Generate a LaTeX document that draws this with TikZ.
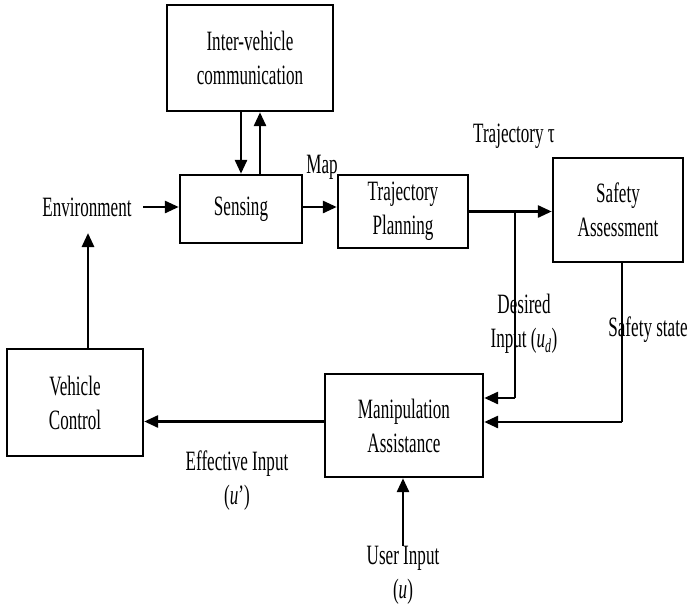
\documentclass[tikz,border=0pt]{standalone}
\usepackage{fontspec}
\setmainfont{Liberation Serif}[FakeStretch=0.61]
\usetikzlibrary{arrows.meta}
\begin{document}
\begin{tikzpicture}[x=1pt,y=-1pt,
  every node/.style={font=\fontsize{28}{34}\selectfont},
  block/.style={draw, line width=2.4pt, inner sep=0pt, align=center},
  lbl/.style={inner sep=0pt, align=center},
  flow/.style={line width=2.8pt, -{Triangle[length=14pt,width=12pt]}},
  feed/.style={line width=1.8pt}]
\useasboundingbox (0,0) rectangle (689,613);

% blocks
\node[block, minimum width=166pt, minimum height=106pt] (ivc)   at (250,58)    {Inter-vehicle\\communication};
\node[block, minimum width=122pt, minimum height=68pt]  (sens)  at (241,209)   {Sensing};
\node[block, minimum width=130pt, minimum height=73pt]  (traj)  at (403,211.5) {Trajectory\\Planning};
\node[block, minimum width=130pt, minimum height=104pt] (safe)  at (618,210)   {Safety\\Assessment};
\node[block, minimum width=158pt, minimum height=103pt] (manip) at (404,425.5) {Manipulation\\Assistance};
\node[block, minimum width=136pt, minimum height=107pt] (veh)   at (75,402.5)  {Vehicle\\Control};

% free labels
\node[lbl] (env) at (87,207)  {Environment};
\node[lbl] (map) at (322,167) {Map};
\node[lbl] (tau) at (514,136) {Trajectory τ};
\node[lbl] (des) at (524,324) {Desired\\Input (\textit{u}\textsubscript{\textit{d}})};
\node[lbl] (sst) at (648,330) {Safety state};
\node[lbl] (eff) at (237,481) {Effective Input\\(\textit{u}')};
\node[lbl] (usr) at (403,575) {User Input\\(\textit{u})};

% connector end points
\coordinate (envout) at (143,207);
\coordinate (envin)  at (88,233);
\coordinate (dcorner) at (515,398);
\coordinate (scorner) at (622,422);
\coordinate (uin) at (403,546);

% connectors
\draw[flow] (envout) -- (envout -| sens.west);
\draw[flow] (veh.north -| envin) -- (envin);
\draw[flow] ([xshift=-9pt]ivc.south) -- ([xshift=-9pt]ivc.south |- sens.north);
\draw[flow] ([xshift=10pt]ivc.south |- sens.north) -- ([xshift=10pt]ivc.south);
\draw[flow] ([yshift=2pt]sens.east) -- ([yshift=2pt]sens.east -| traj.west);
\draw[flow] (traj.east) -- (traj.east -| safe.west);
\draw[feed] (traj.east -| dcorner) -- (dcorner);
\draw[flow] (dcorner) -- (dcorner -| manip.east);
\draw[feed] (safe.south -| scorner) -- (scorner);
\draw[flow] (scorner) -- (scorner -| manip.east);
\draw[flow] ([yshift=4pt]manip.west) -- ([yshift=4pt]manip.west -| veh.east);
\draw[flow] (uin) -- (uin |- manip.south);
\end{tikzpicture}
\end{document}
